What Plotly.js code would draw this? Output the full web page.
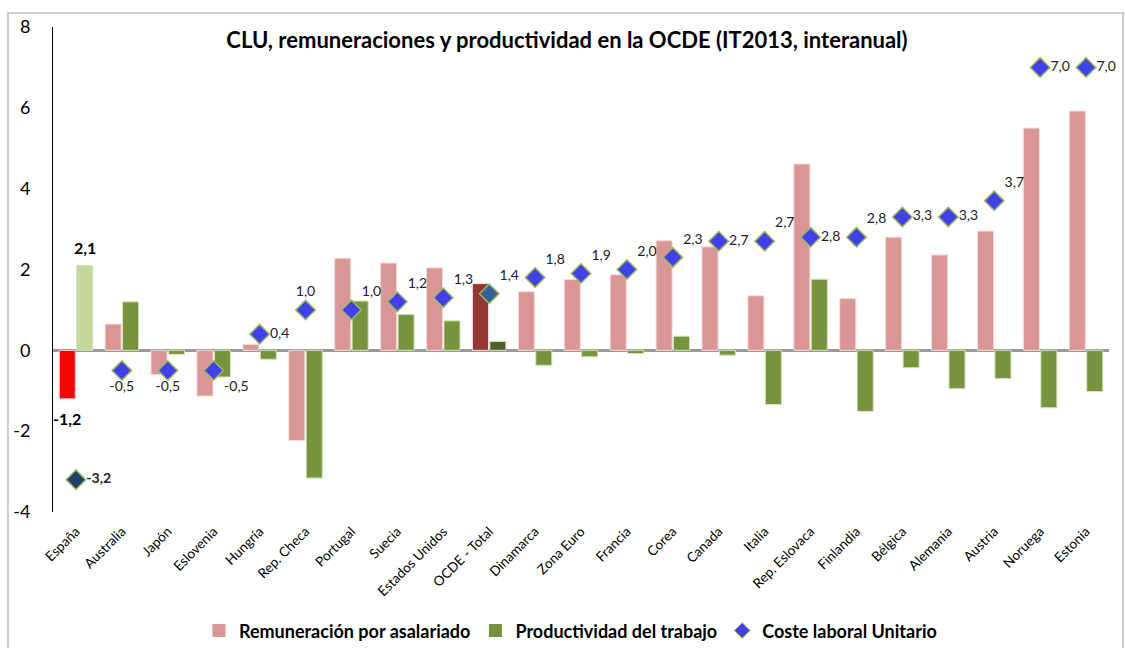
<!DOCTYPE html>
<html>
<head>
<meta charset="utf-8">
<script src="https://cdn.plot.ly/plotly-3.0.1.min.js"></script>
<style>html,body{margin:0;padding:0;background:#fff;}#chart{width:1125px;height:648px;}</style>
</head>
<body>
<div id="chart"></div>
<script>
const categories = ["España","Australia","Japón","Eslovenia","Hungría","Rep. Checa","Portugal","Suecia","Estados Unidos","OCDE - Total","Dinamarca","Zona Euro","Francia","Corea","Canada","Italia","Rep. Eslovaca","Finlandia","Bélgica","Alemania","Austria","Noruega","Estonia"];
const remuneracion = [-1.2,0.65,-0.6,-1.13,0.15,-2.23,2.28,2.16,2.04,1.65,1.45,1.75,1.87,2.71,2.56,1.35,4.61,1.28,2.8,2.36,2.95,5.5,5.92];
const productividad = [2.1,1.2,-0.1,-0.66,-0.22,-3.16,1.22,0.89,0.73,0.22,-0.37,-0.16,-0.08,0.35,-0.12,-1.34,1.76,-1.51,-0.43,-0.95,-0.7,-1.42,-1.02];
const clu = [-3.2,-0.5,-0.5,-0.5,0.4,1.0,1.0,1.2,1.3,1.4,1.8,1.9,2.0,2.3,2.7,2.7,2.8,2.8,3.3,3.3,3.7,7.0,7.0];
const yTicks = [-4,-2,0,2,4,6,8];
const seriesNames = ["Remuneración por asalariado","Productividad del trabajo","Coste laboral Unitario"];
const chartTitle = "CLU, remuneraciones y productividad en la OCDE (IT2013, interanual)";

const fmt = v => v.toFixed(1).replace('.', ',');
const FONT = "Lato, 'Open Sans', sans-serif";
const PINK = "#D99694", GREEN = "#77933C", BLUE = "#4040EE";

const remColors = categories.map(c => c === "España" ? "#FF0000" : (c === "OCDE - Total" ? "#953735" : PINK));
const prodColors = categories.map(c => c === "España" ? "#C3D69B" : (c === "OCDE - Total" ? "#4F6228" : GREEN));
const cluColors = categories.map(c => c === "España" ? "#1F3F6E" : (c === "OCDE - Total" ? "#35609A" : BLUE));
const cluPos = ["middle right","bottom center","bottom center","bottom right","middle right","top center","top right","top right","top right","top right","top right","top right","top right","top right","middle right","top right","middle right","top right","middle right","middle right","top right","middle right","middle right"];
const cluText = clu.map((v, i) => i === 0 ? "<b>" + fmt(v) + "</b>" : fmt(v));

const traces = [
  {type:"bar", name:seriesNames[0], x:categories, y:remuneracion, showlegend:false,
   marker:{color:remColors, line:{color:"#F2DCDB", width:1}}, hoverinfo:"x+y"},
  {type:"bar", name:seriesNames[1], x:categories, y:productividad, showlegend:false,
   marker:{color:prodColors, line:{color:"#D7E4BD", width:1}}, hoverinfo:"x+y"},
  {type:"scatter", mode:"markers+text", name:seriesNames[2], x:categories, y:clu, showlegend:false,
   marker:{symbol:"diamond", size:15, color:cluColors, line:{color:"#9BBB59", width:1.5}},
   text:cluText, textposition:cluPos, textfont:{family:FONT, size:14, color:"#222"}, cliponaxis:false},
  // legend entries
  {type:"scatter", mode:"markers", name:seriesNames[0], x:[null], y:[null], marker:{symbol:"square", size:13, color:PINK}},
  {type:"scatter", mode:"markers", name:seriesNames[1], x:[null], y:[null], marker:{symbol:"square", size:13, color:GREEN}},
  {type:"scatter", mode:"markers", name:seriesNames[2], x:[null], y:[null], marker:{symbol:"diamond", size:12, color:BLUE, line:{color:"#9BBB59", width:1}}}
];

const annotations = [
  {x:categories[0], y:productividad[0], text:"<b>"+fmt(productividad[0])+"</b>", xshift:9, yshift:18, showarrow:false, font:{family:FONT,size:16,color:"#000"}},
  {x:categories[0], y:remuneracion[0], text:"<b>"+fmt(remuneracion[0])+"</b>", xshift:-9, yshift:-20, showarrow:false, font:{family:FONT,size:16,color:"#000"}}
];

const layout = {
  width:1125, height:648,
  margin:{l:53, r:16, t:27, b:136, autoexpand:false},
  paper_bgcolor:"#fff", plot_bgcolor:"#fff",
  font:{family:FONT, color:"#000"},
  title:{text:"<b>"+chartTitle+"</b>", font:{family:FONT, size:22, color:"#000"}, x:0.504, xanchor:"center", y:0.938, yanchor:"middle", yref:"container"},
  barmode:"group", bargap:0.24, bargroupgap:0.08,
  xaxis:{type:"category", range:[-0.5, categories.length - 0.5], automargin:false, tickangle:-45, tickfont:{family:FONT, size:13.5, color:"#000"}, ticklabelstandoff:8, showgrid:false, showline:false, ticks:"", zeroline:false},
  yaxis:{range:[-4,8], automargin:false, tickvals:yTicks, ticktext:yTicks.map(String), tickfont:{family:FONT, size:18, color:"#000"}, showgrid:false, showline:true, linecolor:"#000", linewidth:1, ticks:"", ticklabelstandoff:18, zeroline:true, zerolinecolor:"#999999", zerolinewidth:2.5},
  showlegend:true,
  legend:{orientation:"h", x:0.49, xanchor:"center", y:-0.245, yanchor:"middle", font:{family:FONT, size:18, color:"#000", weight:"bold"}, traceorder:"normal"},
  annotations:annotations,
  shapes:[{type:"rect", xref:"paper", yref:"paper", x0:-0.0426, x1:1.0133, y0:-0.29, y1:1.029, line:{color:"#BFBFBF", width:1.5}, fillcolor:"rgba(0,0,0,0)", layer:"below"}]
};

Plotly.newPlot("chart", traces, layout, {displayModeBar:false, staticPlot:true});
</script>
</body>
</html>
